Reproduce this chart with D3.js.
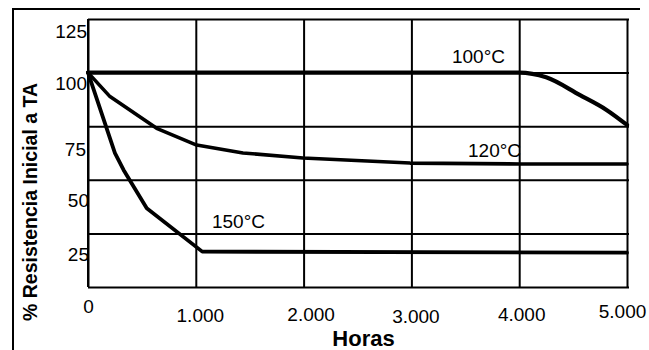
<!DOCTYPE html>
<html><head><meta charset="utf-8">
<script src="https://cdn.jsdelivr.net/npm/d3@7"></script>
<style>
html,body{margin:0;padding:0;background:#fff;}
svg{display:block;font-family:"Liberation Sans",Arial,sans-serif;}
</style></head>
<body>
<svg id="chart" width="649" height="350"></svg>
<script>
// ---- data ----
const xTickValues = [0, 1000, 2000, 3000, 4000, 5000];
const xTickLabels = ["0", "1.000", "2.000", "3.000", "4.000", "5.000"];
const yTickValues = [25, 50, 75, 100, 125];
const yTickLabels = ["25", "50", "75", "100", "125"];

const hours100 = [0, 4000, 4250, 4560, 4810, 5000];
const res100   = [100, 100, 97.8, 89.6, 82.6, 75.6];
const hours120 = [0, 204, 637, 1008, 1438, 1994, 2987, 4007, 5000];
const res120   = [100, 88.8, 74, 66.2, 62.5, 60.2, 57.8, 57.4, 57.4];
const hours150 = [0, 250, 330, 545, 1060, 5000];
const res150   = [100, 62.4, 54.6, 36.7, 16.5, 16.0];

const seriesNames = ["100°C", "120°C", "150°C"];
const labelHours = [3868, 4017, 1150];
const labelRes   = [104.5, 60.6, 27.5];

// ---- layout (positions only) ----
const xTickDx = [0, 4, 7, 4, 2, -5];
const xTickBaseline = [26, 35, 34, 36, 34, 31];
const yTickDy = [27, 27, 29, 17, 18];
const yTickDx = [1, 1, -2, -1, -1];

const svg = d3.select("#chart");
const x = d3.scaleLinear().domain([0, 5000]).range([88, 627]);
const y = d3.scaleLinear().domain([0, 125]).range([287, 19]);

// outer frame (top + left)
svg.append("path").attr("d", "M13,350 L13,9 L640,9")
  .attr("fill", "none").attr("stroke", "#000").attr("stroke-width", 2);

// vertical gridlines
const gx = svg.append("g").attr("transform", `translate(0,${y(0)})`)
  .call(d3.axisBottom(x).tickValues(xTickValues).tickSize(-(y(0) - y(125))).tickFormat((d, i) => xTickLabels[i]));
gx.select(".domain").remove();
gx.selectAll(".tick line").attr("stroke", "#000").attr("stroke-width", 2);
gx.selectAll(".tick text")
  .attr("font-size", 19).attr("fill", "#000")
  .attr("font-family", "'Liberation Sans', Arial, sans-serif")
  .attr("dy", null)
  .attr("y", (d, i) => xTickBaseline[i])
  .attr("x", (d, i) => xTickDx[i]);

// horizontal gridlines
const gy = svg.append("g").attr("transform", `translate(${x(0)},0)`)
  .call(d3.axisLeft(y).tickValues([0].concat(yTickValues)).tickSize(-(x(5000) - x(0) + 2))
    .tickFormat(d => { const k = yTickValues.indexOf(d); return k < 0 ? "" : yTickLabels[k]; }));
gy.select(".domain").remove();
gy.selectAll(".tick line").attr("stroke", "#000").attr("stroke-width", 2);
gy.selectAll(".tick text")
  .attr("font-size", 19).attr("fill", "#000")
  .attr("font-family", "'Liberation Sans', Arial, sans-serif")
  .attr("dy", null)
  .attr("x", d => { const k = yTickValues.indexOf(d); return k < 0 ? 0 : yTickDx[k]; })
  .attr("y", d => { const k = yTickValues.indexOf(d); return k < 0 ? 0 : yTickDy[k]; });

// left axis line (plot frame)
svg.append("line").attr("x1", x(0)).attr("x2", x(0)).attr("y1", y(125)).attr("y2", y(0))
  .attr("stroke", "#000").attr("stroke-width", 2);

// curves
const series = [
  hours100.map((h, i) => [h, res100[i]]),
  hours120.map((h, i) => [h, res120[i]]),
  hours150.map((h, i) => [h, res150[i]])
];
const curves = [d3.curveMonotoneX, d3.curveLinear, d3.curveLinear];
const widths = [4.2, 3.6, 3.8];
series.forEach((s, i) => {
  const line = d3.line().x(d => x(d[0])).y(d => y(d[1])).curve(curves[i]);
  svg.append("path").datum(s).attr("d", line)
    .attr("fill", "none").attr("stroke", "#000")
    .attr("stroke-width", widths[i]).attr("stroke-linejoin", "round").attr("stroke-linecap", "round");
});

// series labels
const anchors = ["end", "end", "start"];
seriesNames.forEach((n, i) => {
  svg.append("text").attr("x", x(labelHours[i])).attr("y", y(labelRes[i]))
    .attr("text-anchor", anchors[i]).attr("font-size", 19).attr("fill", "#000").text(n);
});

// axis titles
svg.append("text").attr("x", 363.5).attr("y", 346).attr("text-anchor", "middle")
  .attr("font-size", 22).attr("font-weight", "bold").text("Horas");
svg.append("text").attr("transform", "translate(37,202) rotate(-90)")
  .attr("text-anchor", "middle").attr("font-size", 19.5).attr("font-weight", "bold")
  .text("% Resistencia Inicial a TA");
</script>
</body></html>
